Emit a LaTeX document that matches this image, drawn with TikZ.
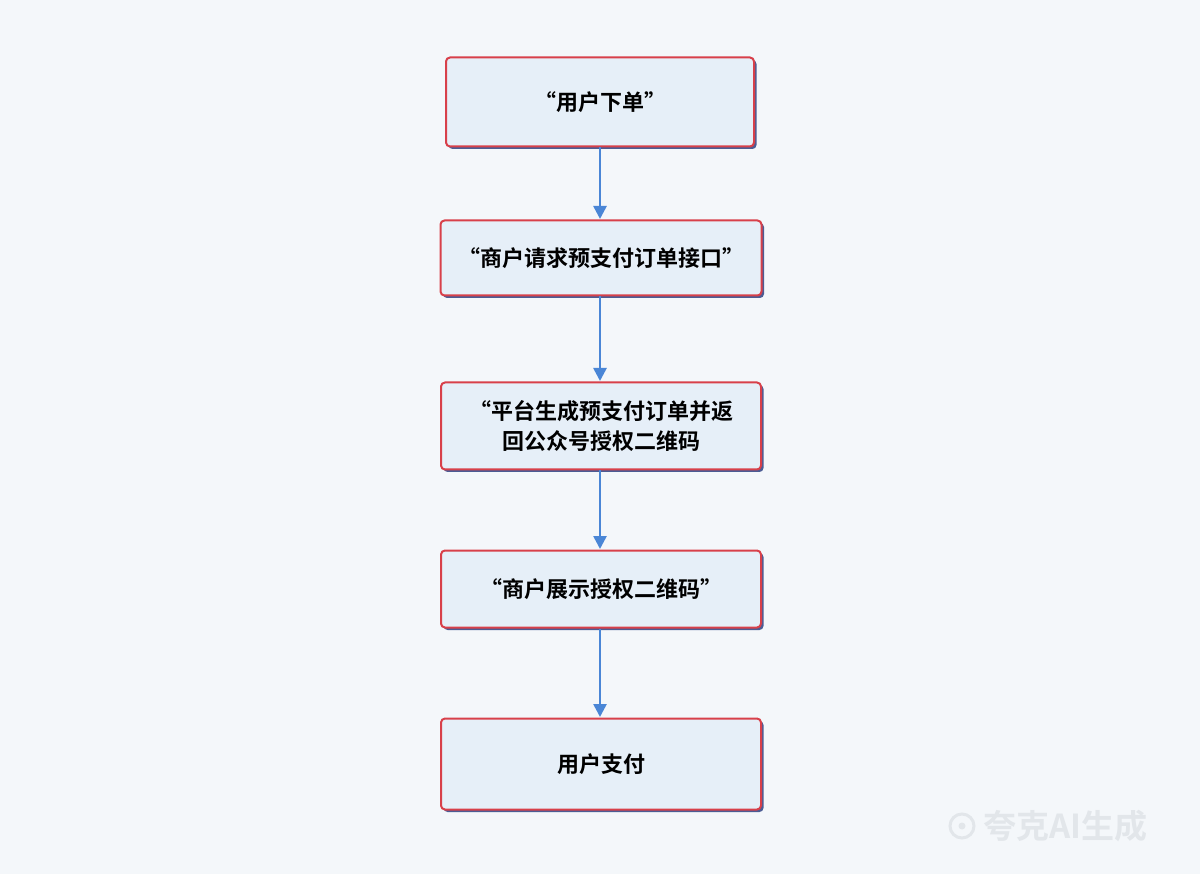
\documentclass[tikz,border=0pt]{standalone}
\usepackage{fontspec}
\setmainfont{Noto Sans CJK SC}[BoldFont={* Bold}]
\usetikzlibrary{arrows.meta,shadows}
\definecolor{bg}{HTML}{F4F7FA}
\definecolor{boxfill}{HTML}{E6EFF8}
\definecolor{boxred}{HTML}{D8404A}
\definecolor{boxblue}{HTML}{3A4C8A}
\definecolor{arr}{HTML}{4A86D6}
\definecolor{wmc}{HTML}{E2E6EA}
\begin{document}
\begin{tikzpicture}[x=1pt,y=-1pt,
  box/.style={draw=boxred,line width=2pt,fill=boxfill,rounded corners=4pt,
    font=\bfseries\fontsize{22}{30}\selectfont,align=center,text=black,
    inner sep=0pt,
    drop shadow={shadow xshift=2.5pt,shadow yshift=-2.5pt,fill=boxblue,opacity=0.9}},
  flow/.style={draw=arr,line width=2.6pt,-{Triangle[length=13pt,width=13pt]}}]
\fill[bg] (0,0) rectangle (1200,874);
\useasboundingbox (0,0) rectangle (1200,874);
\node[box,minimum width=308pt,minimum height=89pt] (b1) at (600,102) {“用户下单”};
\node[box,minimum width=321pt,minimum height=75pt] (b2) at (601,258) {“商户请求预支付订单接口”};
\node[box,minimum width=320pt,minimum height=87pt] (b3) at (601,426) {“平台生成预支付订单并返\\回公众号授权二维码};
\node[box,minimum width=320pt,minimum height=77pt] (b4) at (601,589) {“商户展示授权二维码”};
\node[box,minimum width=320pt,minimum height=91pt] (b5) at (601,764) {用户支付};
\draw[flow] (b1.south -| 600,0) -- (600,219);
\draw[flow] (b2.south -| 600,0) -- (600,381);
\draw[flow] (b3.south -| 600,0) -- (600,549);
\draw[flow] (b4.south -| 600,0) -- (600,717);
\draw[wmc,line width=3pt] (962,826) circle (12pt);
\fill[wmc] (962,826) circle (3.5pt);
\node[text=wmc,font=\bfseries\fontsize{33}{36}\selectfont,anchor=west] (wm) at (980,826) {夸克AI生成};
\end{tikzpicture}
\end{document}
